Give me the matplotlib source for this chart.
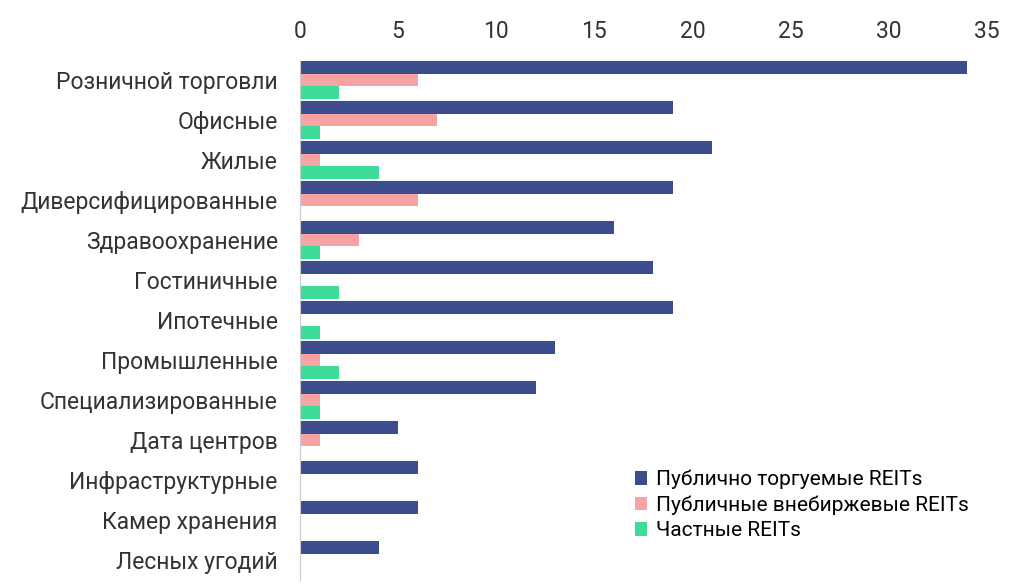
import matplotlib
matplotlib.use("Agg")
import matplotlib.pyplot as plt
import numpy as np

categories = ["Розничной торговли", "Офисные", "Жилые", "Диверсифицированные",
              "Здравоохранение", "Гостиничные", "Ипотечные", "Промышленные",
              "Специализированные", "Дата центров", "Инфраструктурные",
              "Камер хранения", "Лесных угодий"]
public_traded = [34, 19, 21, 19, 16, 18, 19, 13, 12, 5, 6, 6, 4]
public_nontraded = [6, 7, 1, 6, 3, 0, 0, 1, 1, 1, 0, 0, 0]
private = [2, 1, 4, 0, 1, 2, 1, 2, 1, 0, 0, 0, 0]
series_names = ["Публично торгуемые REITs", "Публичные внебиржевые REITs", "Частные REITs"]
colors = ["#3b4d8c", "#f7a3a3", "#3ddc98"]

plt.rcParams["font.family"] = "Roboto"
fig = plt.figure(figsize=(10.13, 5.88), dpi=100)
ax = fig.add_axes([300/1013, 8/588, 687/1013, 520/588])
y = np.arange(len(categories))
h = 0.32
for i, (vals, name, c) in enumerate(zip([public_traded, public_nontraded, private], series_names, colors)):
    ax.barh(y + (i - 1) * h, vals, height=h, color=c, label=name)
ax.set_ylim(len(categories) - 0.5, -0.5)
ax.set_xlim(0, 35)
ax.set_xticks(range(0, 36, 5))
ax.xaxis.tick_top()
ax.set_yticks(y)
ax.set_yticklabels(categories)
ax.tick_params(length=0, labelsize=16.5, colors="#333333")
ax.tick_params(axis="y", pad=16)
ax.tick_params(axis="x", pad=12)
for s in ["top", "right", "bottom"]:
    ax.spines[s].set_visible(False)
ax.spines["left"].set_color("#cccccc")
ax.legend(loc="lower right", frameon=False, fontsize=15, handlelength=0.6,
          handleheight=0.6, handletextpad=0.4, labelspacing=0.3,
          bbox_to_anchor=(1.0, 0.04))
fig.savefig("out.png", dpi=100)
